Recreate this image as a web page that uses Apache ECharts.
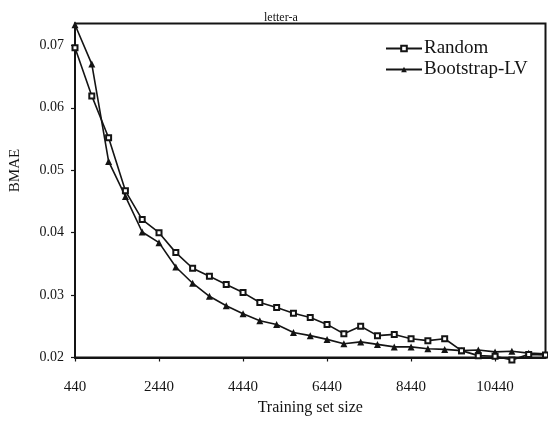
<!DOCTYPE html>
<html>
<head>
<meta charset="utf-8">
<script src="https://cdn.jsdelivr.net/npm/echarts@6/dist/echarts.min.js"></script>
<style>
html,body{margin:0;padding:0;background:#fff;}
#chart{width:548px;height:421px;}
</style>
</head>
<body>
<div id="chart"></div>
<script>
const trainingSizes = [440, 840, 1240, 1640, 2040, 2440, 2840, 3240, 3640, 4040, 4440, 4840, 5240, 5640, 6040, 6440, 6840, 7240, 7640, 8040, 8440, 8840, 9240, 9640, 10040, 10440, 10840, 11240, 11640];
const randomBMAE = [0.0696, 0.0619, 0.0552, 0.0467, 0.0421, 0.0400, 0.0368, 0.0343, 0.0330, 0.0317, 0.0304, 0.0288, 0.0280, 0.0271, 0.0264, 0.0253, 0.0238, 0.0250, 0.0235, 0.0237, 0.0230, 0.0227, 0.0230, 0.0211, 0.0203, 0.0202, 0.0196, 0.0205, 0.0204];
const bootstrapBMAE = [0.0733, 0.0670, 0.0514, 0.0458, 0.0401, 0.0384, 0.0345, 0.0319, 0.0298, 0.0283, 0.0270, 0.0259, 0.0253, 0.0240, 0.0235, 0.0229, 0.0222, 0.0225, 0.0221, 0.0217, 0.0217, 0.0214, 0.0213, 0.0211, 0.0212, 0.0209, 0.0210, 0.0207, 0.0206];
const seriesNames = ['Random', 'Bootstrap-LV'];
const chartTitle = 'letter-a';
const xAxisName = 'Training set size';
const yAxisName = 'BMAE';

const serif = '"Liberation Serif", "DejaVu Serif", serif';
const ink = '#141414';

function pairs(xs, ys) { return xs.map((x, i) => [x, ys[i]]); }

const chart = echarts.init(document.getElementById('chart'));
chart.setOption({
  animation: false,
  backgroundColor: '#fff',
  title: {
    text: chartTitle,
    left: 259, top: 7,
    textStyle: { fontFamily: serif, fontSize: 12, fontWeight: 'normal', color: ink }
  },
  legend: {
    data: seriesNames,
    orient: 'vertical',
    left: 380, top: 34,
    itemWidth: 36, itemHeight: 7, itemGap: 2,
    textStyle: { fontFamily: serif, fontSize: 19, color: ink, padding: [0,0,0,-3] }
  },
  grid: {
    left: 74.5, right: 2.5, top: 23.5, bottom: 63.5,
    show: true, borderColor: ink, borderWidth: 2, backgroundColor: 'transparent'
  },
  xAxis: {
    type: 'value', min: 440, max: 11640, interval: 2000,
    name: xAxisName, nameLocation: 'middle', nameGap: 36,
    nameTextStyle: { fontFamily: serif, fontSize: 16, color: ink },
    axisLine: { show: true, lineStyle: { color: ink, width: 2 } },
    axisTick: { show: true, inside: false, length: 4, lineStyle: { color: ink, width: 1.2 } },
    axisLabel: { showMaxLabel: false, margin: 22, fontFamily: serif, fontSize: 15, color: ink,
      formatter: v => String(v) },
    splitLine: { show: false }
  },
  yAxis: {
    type: 'value', min: 0.02, max: 0.0735, interval: 0.01,
    name: yAxisName, nameLocation: 'middle', nameGap: 52,
    nameTextStyle: { fontFamily: serif, fontSize: 15, color: ink, padding: [0, 0, 0, 40] },
    axisLine: { show: true, lineStyle: { color: ink, width: 2 } },
    axisTick: { show: true, inside: false, length: 4, lineStyle: { color: ink, width: 1.2 } },
    axisLabel: { showMaxLabel: false, margin: 11, fontFamily: serif, fontSize: 14, color: ink,
      formatter: v => v.toFixed(2) },
    splitLine: { show: false }
  },
  series: [
    {
      name: seriesNames[0], type: 'line', data: pairs(trainingSizes, randomBMAE),
      clip: false,
      symbol: 'emptyRect', symbolSize: 5,
      lineStyle: { color: ink, width: 1.6 },
      itemStyle: { color: ink, borderColor: ink, borderWidth: 1 },
      z: 3
    },
    {
      name: seriesNames[1], type: 'line', data: pairs(trainingSizes, bootstrapBMAE),
      clip: false,
      symbol: 'triangle', symbolSize: 7,
      lineStyle: { color: ink, width: 1.6 },
      itemStyle: { color: ink },
      z: 2
    }
  ]
});
</script>
</body>
</html>
